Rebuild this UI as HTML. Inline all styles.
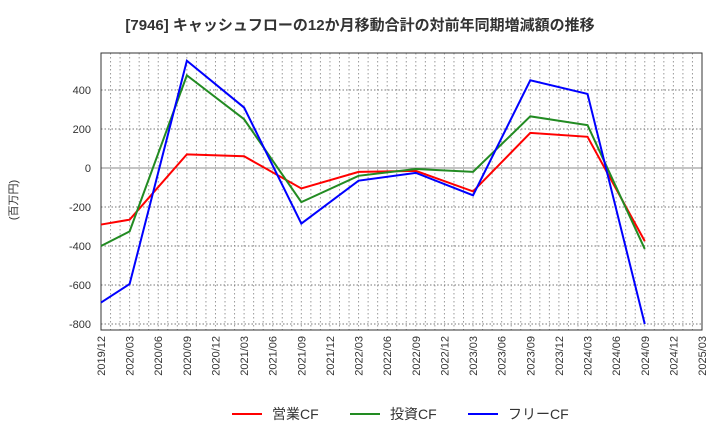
<!DOCTYPE html>
<html><head><meta charset="utf-8"><style>
body{margin:0;background:#fff;font-family:"Liberation Sans","Noto Sans CJK JP",sans-serif;}
</style></head><body>
<svg id="chart" width="720" height="440" xmlns="http://www.w3.org/2000/svg" font-family="Liberation Sans, Noto Sans CJK JP, sans-serif">
<text x="360" y="30" text-anchor="middle" font-size="15" font-weight="bold" fill="#333">[7946]  キャッシュフローの12か月移動合計の対前年同期増減額の推移</text>
<text transform="translate(17,200) rotate(-90)" text-anchor="middle" font-size="11" fill="#333">(百万円)</text>
<g id="grid"></g><g id="axes"></g><g id="series"></g>
<g font-size="14" fill="#333">
<line x1="232" y1="414" x2="262" y2="414" stroke="#f00" stroke-width="2"/><text x="272" y="419">営業CF</text>
<line x1="350" y1="414" x2="380" y2="414" stroke="#228b22" stroke-width="2"/><text x="390" y="419">投資CF</text>
<line x1="468" y1="414" x2="498" y2="414" stroke="#00f" stroke-width="2"/><text x="508" y="419">フリーCF</text>
</g>
</svg>
<script>
const xLabels=["2019/12","2020/03","2020/06","2020/09","2020/12","2021/03","2021/06","2021/09","2021/12","2022/03","2022/06","2022/09","2022/12","2023/03","2023/06","2023/09","2023/12","2024/03","2024/06","2024/09","2024/12","2025/03"];
const pointQuarters=[0,1,3,5,7,9,11,13,15,17,19];
const operatingCF=[-290,-265,70,60,-105,-20,-15,-120,180,160,-375];
const investingCF=[-400,-325,475,250,-175,-40,-5,-20,265,220,-415];
const freeCF=[-690,-595,550,310,-285,-65,-25,-140,450,380,-800];
const yTicks=[400,200,0,-200,-400,-600,-800];
const L=101,R=702,T=53,B=330;
const xs=q=>L+q*(R-L)/21;
const ys=v=>168-v*0.195;
const NS="http://www.w3.org/2000/svg";
function mk(p,t,a){const e=document.createElementNS(NS,t);for(const k in a)e.setAttribute(k,a[k]);p.appendChild(e);return e;}
const g=document.getElementById('grid'),ax=document.getElementById('axes'),s=document.getElementById('series');
for(let m=1;m<63;m++){const x=L+m*(R-L)/63;const l=mk(g,'line',{x1:x,x2:x,y1:T,y2:B,stroke:'#999','stroke-dasharray':'1.5,2.5','stroke-width':1});

}
yTicks.forEach(v=>{const y=ys(v);const l=mk(g,'line',{x1:L,x2:R,y1:y,y2:y,stroke:v===0?'#888':'#777','stroke-dasharray':v===0?'none':'1.5,2','stroke-width':1});


const t=mk(ax,'text',{x:L-10,y:y+4,'text-anchor':'end','font-size':11,fill:'#333'});t.textContent=v;

});
const fr=mk(ax,'rect',{x:L,y:T,width:R-L,height:B-T,fill:'none',stroke:'#333','stroke-width':1});


xLabels.forEach((lb,i)=>{const x=xs(i);const t=mk(ax,'text',{transform:`translate(${x+4},${B+6}) rotate(-90)`,'text-anchor':'end','font-size':11,fill:'#333'});t.textContent=lb;

});
[[operatingCF,'#f00','line-operating-cf'],[investingCF,'#228b22','line-investing-cf'],[freeCF,'#00f','line-free-cf']].forEach(([d,c,n])=>{
const p=mk(s,'polyline',{points:d.map((v,i)=>xs(pointQuarters[i])+','+ys(v)).join(' '),fill:'none',stroke:c,'stroke-width':2});

});
</script>
</body></html>
